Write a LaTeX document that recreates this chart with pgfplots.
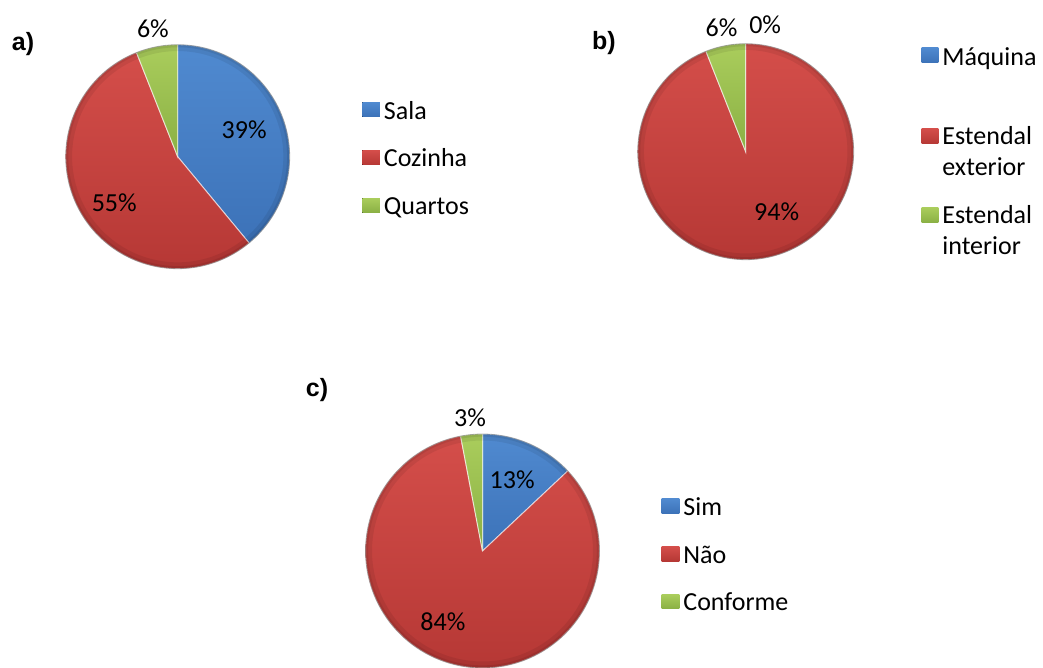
\documentclass[border=0pt]{standalone}
\usepackage{pgfplots}
\pgfplotsset{compat=1.18}
\usepackage{pgfplotstable}
\usepackage{fontspec}
\setmainfont{Carlito}
\newfontfamily\headfont{Liberation Sans}

% shares (%) with label angle (deg) and label radius (fraction of pie radius)
\pgfplotstableread{
value la lr
39 22 0.64
55 216 0.70
6 101 1.16
}\tabA
\pgfplotstableread{
value la lr
0 81.3 1.19
94 -62.7 0.625
6 101 1.17
}\tabB
\pgfplotstableread{
value la lr
13 67.4 0.66
84 240.6 0.69
3 95.4 1.14
}\tabC

\definecolor{blueL}{RGB}{80,138,208}
\definecolor{blueD}{RGB}{60,114,184}
\definecolor{redL}{RGB}{212,78,74}
\definecolor{redD}{RGB}{182,56,53}
\definecolor{greenL}{RGB}{170,205,92}
\definecolor{greenD}{RGB}{138,176,68}

\tikzset{pct/.style={font=\fontsize{26}{30.5}\selectfont, inner sep=0pt}}
\pgfplotsset{
  pieblue/.style={top color=blueL, bottom color=blueD},
  piered/.style={top color=redL, bottom color=redD},
  piegreen/.style={top color=greenL, bottom color=greenD},
  pie/.style={
    hide axis, enlargelimits=false, clip=false,
    xmin=-1, xmax=1, ymin=-1, ymax=1, anchor=center,
    legend image code/.code={\fill[##1, draw=none] (0pt,-7.8pt) rectangle (17.7pt,6.6pt);},
    legend cell align=left,
    legend style={draw=none, fill=none, inner sep=0pt, outer sep=0pt,
      column sep=4pt, anchor=north west,
      font=\fontsize{26}{30.5}\selectfont,
      nodes={inner sep=0pt, align=left, execute at begin node=\strut}},
  },
  % two-line entries: swatch beside the first line
  pietwo/.style={
    legend image code/.code={\fill[##1, draw=none] (0pt,8.15pt) rectangle (16.7pt,23.15pt);},
  },
  % swatch for the padded single-line entry
  pietop/.style={
    legend image code/.code={\fill[##1, draw=none] (0pt,2.15pt) rectangle (16.7pt,17.15pt);},
  },
}

% one wedge: table, row, style, legend text
\newcommand\pieslice[4]{%
  \pgfplotstablegetelem{#2}{value}\of{#1}\let\pv\pgfplotsretval
  \pgfplotstablegetelem{#2}{la}\of{#1}\let\pla\pgfplotsretval
  \pgfplotstablegetelem{#2}{lr}\of{#1}\let\plr\pgfplotsretval
  \pgfmathsetmacro\pa{90-3.6*(\pcum+\pv)}%
  \pgfmathsetmacro\pb{90-3.6*\pcum}%
  \pgfmathsetmacro\plx{\plr*cos(\pla)}%
  \pgfmathsetmacro\ply{\plr*sin(\pla)}%
  \pgfmathtruncatemacro\pvi{\pv}%
  \ifdim\pv pt>0pt
    \edef\pcmd{\noexpand\addplot[#3, draw=white, draw opacity=0.6, line width=1pt,
      domain=\pa:\pb, samples=120] ({cos(x)},{sin(x)}) -- (axis cs:0,0) -- cycle;}%
    \pcmd
  \else
    \addlegendimage{#3}%
  \fi
  \addlegendentry{#4}%
  \edef\pcmd{\noexpand\node[pct] at (axis cs:\plx,\ply) {\pvi\noexpand\%};}\pcmd
  \pgfmathsetmacro\pcum{\pcum+\pv}\global\let\pcum\pcum
}

% soft darker rim over the whole pie
\newcommand\pierim{%
  \addplot[forget plot, domain=0:360, samples=181, draw=black, draw opacity=0.07, line width=6pt]
    ({0.97*cos(x)},{0.97*sin(x)});
  \addplot[forget plot, domain=0:360, samples=181, draw=black, draw opacity=0.08, line width=2.5pt]
    ({0.988*cos(x)},{0.988*sin(x)});
  \addplot[forget plot, domain=0:360, samples=181, draw=black, draw opacity=0.3, line width=0.8pt]
    ({cos(x)},{sin(x)});
}

\begin{document}
\begin{tikzpicture}
\useasboundingbox (0,0) rectangle (1043pt,667pt);

\gdef\pcum{0}
\begin{axis}[pie, x=112pt, y=112pt, at={(177.7pt,510.3pt)},
  legend style={at={(1.324,0.7636)}, row sep=25pt}]
  \pieslice{\tabA}{0}{pieblue}{Sala}
  \pieslice{\tabA}{1}{piered}{Cozinha}
  \pieslice{\tabA}{2}{piegreen}{Quartos}
  \pierim
\end{axis}

\gdef\pcum{0}
\begin{axis}[pie, pietwo, x=108pt, y=108pt, at={(745.7pt,515.3pt)},
  legend style={at={(1.3148,1.0525)}, row sep=29pt}]
  \pieslice{\tabB}{0}{pieblue, pietop}{\rule{0pt}{33.3pt}Máquina\\\rule[-21.1pt]{0pt}{21.1pt}}
  \pieslice{\tabB}{1}{piered}{Estendal\\exterior\strut}
  \pieslice{\tabB}{2}{piegreen}{Estendal\\interior\strut}
  \pierim
\end{axis}

\gdef\pcum{0}
\begin{axis}[pie, x=117pt, y=117pt, at={(482.5pt,116pt)},
  legend style={at={(1.2658,0.7439)}, row sep=25pt}]
  \pieslice{\tabC}{0}{pieblue}{Sim}
  \pieslice{\tabC}{1}{piered}{Não}
  \pieslice{\tabC}{2}{piegreen}{Conforme}
  \pierim
\end{axis}

\node[font=\headfont\bfseries\fontsize{25}{29}\selectfont, inner sep=0pt] at (23pt,623pt) {a)};
\node[font=\headfont\bfseries\fontsize{25}{29}\selectfont, inner sep=0pt] at (604pt,624pt) {b)};
\node[font=\headfont\bfseries\fontsize{25}{29}\selectfont, inner sep=0pt] at (317pt,277pt) {c)};
\end{tikzpicture}
\end{document}
